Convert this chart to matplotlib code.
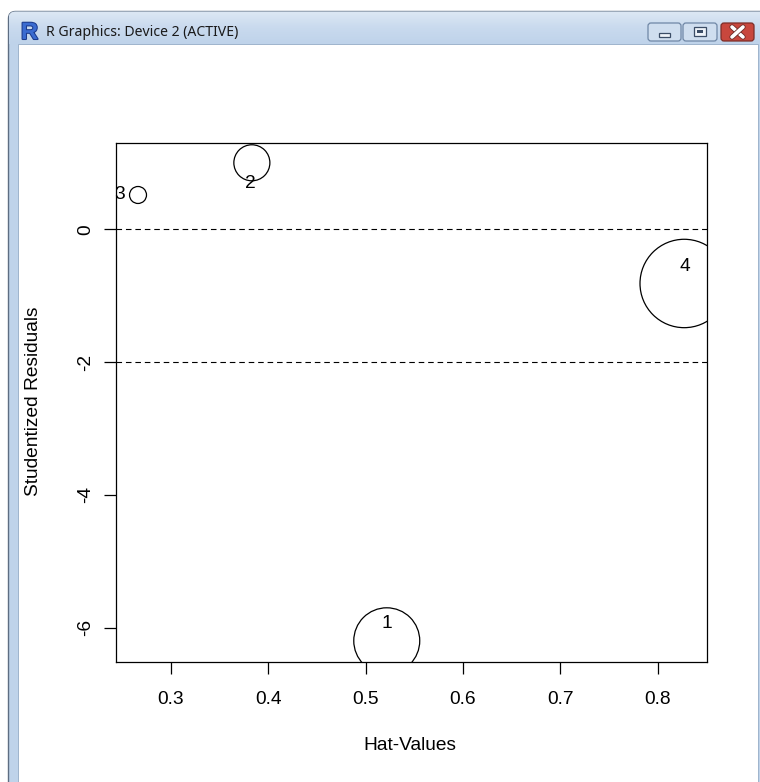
import matplotlib
matplotlib.use("Agg")
import matplotlib.pyplot as plt
import numpy as np
from matplotlib.patches import Rectangle, FancyBboxPatch
import matplotlib.patheffects as pe

# ---------------- data ----------------
obs_labels = ["1", "2", "3", "4"]
hat_values = [0.5218, 0.3833, 0.2664, 0.8272]
stud_resid = [-6.197, 1.0015, 0.5166, -0.816]
cooks_d = [2.40, 0.716, 0.159, 4.31]
ref_lines = [0, -2]
x_ticks = [0.3, 0.4, 0.5, 0.6, 0.7, 0.8]
y_ticks = [0, -2, -4, -6]
x_label = "Hat-Values"
y_label = "Studentized Residuals"
window_title = "R Graphics: Device 2 (ACTIVE)"

plt.rcParams['font.family'] = ['Liberation Sans', 'DejaVu Sans']

W, H = 760, 782
DPI = 100
PT = 72.0 / DPI  # points per pixel
fig = plt.figure(figsize=(W / DPI, H / DPI), dpi=DPI)
fig.patch.set_facecolor('white')

# ---------------- window chrome (pixel coords) ----------------
bg = fig.add_axes([0, 0, 1, 1], zorder=0)
bg.set_xlim(0, W)
bg.set_ylim(H, 0)
bg.axis('off')

frame = FancyBboxPatch((8.5, 11.5), 770, 800, boxstyle="round,pad=0,rounding_size=7",
                       facecolor='#bfd3ea', edgecolor='#5d6d82', lw=1.0, zorder=1)
bg.add_patch(frame)
grad = np.linspace(0, 1, 64).reshape(-1, 1)
from matplotlib.colors import LinearSegmentedColormap
cm = LinearSegmentedColormap.from_list('tb', ['#dde8f4', '#c9daee', '#bfd3ea'])
im = bg.imshow(grad, cmap=cm, extent=[8.5, 760, 44, 11.5], aspect='auto', zorder=1.5)
im.set_clip_path(frame)
bg.set_xlim(0, W)
bg.set_ylim(H, 0)

bg.add_patch(Rectangle((17.5, 44), 740.5, 760, facecolor='white', edgecolor='#9fb4cc',
                       lw=0.7, zorder=2))

# buttons
for x0, w in [(648, 33), (683, 34)]:
    bg.add_patch(FancyBboxPatch((x0, 23), w, 18, boxstyle="round,pad=0,rounding_size=3",
                                facecolor='#cfdeef', edgecolor='#6f87a6', lw=0.9, zorder=3))
bg.add_patch(FancyBboxPatch((721, 23), 33, 18, boxstyle="round,pad=0,rounding_size=3",
                            facecolor='#c8473d', edgecolor='#7c2d27', lw=0.9, zorder=3))
bg.add_patch(Rectangle((659, 33), 11, 4, facecolor='#eef3f9', edgecolor='#3b4d66', lw=0.9, zorder=4))
bg.add_patch(Rectangle((694, 27), 12, 9, facecolor='#eef3f9', edgecolor='#3b4d66', lw=0.9, zorder=4))
bg.add_patch(Rectangle((697, 30), 6, 3, facecolor='#3b4d66', edgecolor='none', zorder=5))
for (xa, ya, xb, yb) in [(732, 27, 743, 37), (732, 37, 743, 27)]:
    bg.plot([xa, xb], [ya, yb], color='white', lw=2.6, solid_capstyle='round', zorder=5,
            path_effects=[pe.Stroke(linewidth=3.8, foreground='#6b2a25'), pe.Normal()])

bg.text(29.5, 32.5, 'R', fontsize=17, fontweight='bold', color='#3a6bd0', ha='center',
        va='center', zorder=5, family=['Liberation Sans', 'DejaVu Sans'],
        path_effects=[pe.Stroke(linewidth=1.5, foreground='#1c3b8c'), pe.Normal()])
tt = bg.text(46, 33, window_title, fontsize=9, family=['Noto Sans', 'DejaVu Sans'],
             ha='left', va='center', color='#1a1a1a', zorder=5)
fig.canvas.draw()
wt = tt.get_window_extent().width
tt.set_fontsize(9 * 192.5 / wt)

# ---------------- main plot ----------------
L, R, T, B = 116.0, 706.5, 143.3, 661.7
ax = fig.add_axes([L / W, 1 - B / H, (R - L) / W, (B - T) / H], zorder=2)
ax.set_facecolor('none')
ax.set_xlim(0.2438, 0.8501)
ax.set_ylim(-6.512, 1.295)
for s in ax.spines.values():
    s.set_linewidth(0.9)
    s.set_color('black')

ax.set_xticks(x_ticks)
ax.set_xticklabels([f"{v:g}" for v in x_ticks])
ax.set_yticks(y_ticks)
ax.set_yticklabels([f"{v:g}" for v in y_ticks], rotation=90, va='center')
ax.tick_params(direction='out', length=8.4, width=0.9, labelsize=13.8, colors='black')
ax.tick_params(axis='x', pad=13)
ax.tick_params(axis='y', pad=7.5)

for v in ref_lines:
    ax.axhline(v, color='black', lw=0.8, ls=(0, (5, 3.5)), zorder=2)

cd = np.array(cooks_d)
r_px = 44.2 * np.sqrt(cd / cd.max())
sizes = (2 * r_px * PT) ** 2
ax.scatter(hat_values, stud_resid, s=sizes, facecolors='none', edgecolors='black',
           linewidths=0.9, zorder=3)

label_offsets = {"1": (0, 17.5), "2": (-1.5, -20.5), "3": (-18.7, 0), "4": (1, 17)}
for lab, xv, yv in zip(obs_labels, hat_values, stud_resid):
    dx, dy = label_offsets[lab]
    ax.annotate(lab, (xv, yv), xytext=(dx * PT, dy * PT), textcoords='offset points',
                ha='center', va='center', fontsize=13.8, color='black', zorder=4,
                annotation_clip=False)

ax.set_xlabel(x_label, fontsize=13.8, va='center', ha='center')
ax.xaxis.set_label_coords((410 - L) / (R - L), -(746 - B) / (B - T))
ax.set_ylabel(y_label, fontsize=13.8, va='center', ha='center')
ax.yaxis.set_label_coords((33.5 - L) / (R - L), (B - 401) / (B - T))

fig.savefig('out.png', dpi=DPI, facecolor='white')
